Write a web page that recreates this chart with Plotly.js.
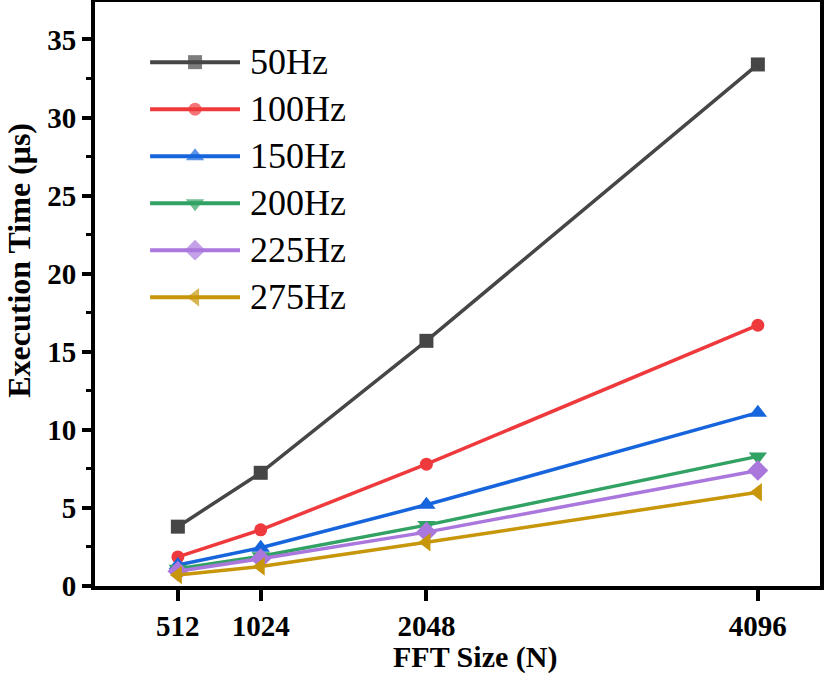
<!DOCTYPE html>
<html>
<head>
<meta charset="utf-8">
<script src="https://cdn.plot.ly/plotly-3.0.1.min.js"></script>
<style>html,body{margin:0;padding:0;background:#fff;}#chart{width:825px;height:676px;}</style>
</head>
<body>
<div id="chart"></div>
<script>
const fftSizes = [512, 1024, 2048, 4096];
const tickLabels = ['512', '1024', '2048', '4096'];
const seriesNames = ['50Hz', '100Hz', '150Hz', '200Hz', '225Hz', '275Hz'];
const y50Hz  = [3.8, 7.25, 15.7, 33.4];
const y100Hz = [1.86, 3.6, 7.8, 16.7];
const y150Hz = [1.35, 2.45, 5.2, 11.1];
const y200Hz = [1.1, 1.9, 3.9, 8.3];
const y225Hz = [0.95, 1.75, 3.45, 7.4];
const y275Hz = [0.7, 1.25, 2.8, 6.0];
const seriesValues = [y50Hz, y100Hz, y150Hz, y200Hz, y225Hz, y275Hz];

const colors = ['#464646', '#ef3a3d', '#1765dc', '#31a264', '#aa77dd', '#c8960a'];
const symbols = ['square', 'circle', 'triangle-up', 'triangle-down', 'diamond', 'triangle-left'];
const msizes = [14, 13, 16, 16, 16, 16];

const FONT = 'Liberation Serif, Times New Roman, serif';
const traces = [];
seriesNames.forEach((name, i) => {
  traces.push({
    x: fftSizes, y: seriesValues[i], name: name, type: 'scatter', mode: 'lines+markers',
    line: {color: colors[i], width: 3.5},
    marker: {symbol: symbols[i], size: msizes[i], color: colors[i], line: {width: 0}},
    showlegend: false, xaxis: 'x', yaxis: 'y'
  });
});

// custom legend drawn on an overlay paper-like axis
const legX0 = 0.076, legX1 = 0.2, legTop = 0.897, legStep = 0.0805;
const annotations = [];
seriesNames.forEach((name, i) => {
  const yy = legTop - i * legStep;
  traces.push({
    x: [legX0, (legX0 + legX1) / 2, legX1], y: [yy, yy, yy], type: 'scatter', mode: 'lines+markers',
    line: {color: colors[i], width: 4},
    marker: {symbol: symbols[i], size: [0, msizes[i], 0], color: colors[i], line: {width: 0}},
    showlegend: false, hoverinfo: 'skip', xaxis: 'x2', yaxis: 'y2'
  });
  annotations.push({
    text: name, xref: 'paper', yref: 'paper', x: 0.211, y: yy, xanchor: 'left', yanchor: 'middle',
    showarrow: false, font: {family: FONT, size: 36, color: '#000'}
  });
});

annotations.push({
  text: 'FFT Size (N)', xref: 'paper', yref: 'paper', x: 0.524, y: -0.121,
  xanchor: 'center', yanchor: 'middle', showarrow: false,
  font: {family: FONT, size: 30, color: '#000', weight: 'bold'}
});
annotations.push({
  text: 'Execution Time (μs)', xref: 'paper', yref: 'paper', x: -0.104, y: 0.558,
  xanchor: 'center', yanchor: 'middle', textangle: -90, showarrow: false,
  font: {family: FONT, size: 32, color: '#000', weight: 'bold'}
});

const layout = {
  width: 825, height: 676,
  margin: {l: 95, r: 5, t: 2, b: 90},
  paper_bgcolor: '#fff', plot_bgcolor: '#fff',
  showlegend: false,
  xaxis: {
    range: [0, 4480], tickvals: fftSizes, ticktext: tickLabels,
    showgrid: false, zeroline: false, showline: true, mirror: true,
    linecolor: '#000', linewidth: 4, ticks: 'outside', ticklen: 11, tickwidth: 4, tickcolor: '#000',
    tickfont: {family: FONT, size: 29, color: '#000', weight: 'bold'}
  },
  yaxis: {
    range: [0, 37.4], dtick: 5, tick0: 0,
    showgrid: false, zeroline: false, showline: true, mirror: true,
    linecolor: '#000', linewidth: 4, ticks: 'outside', ticklen: 9, tickwidth: 4, tickcolor: '#000',
    minor: {dtick: 2.5, ticks: 'outside', ticklen: 5, tickwidth: 3, tickcolor: '#000', showgrid: false},
    tickfont: {family: FONT, size: 29, color: '#000', weight: 'bold'}
  },
  xaxis2: {overlaying: 'x', anchor: 'y2', range: [0, 1], visible: false, fixedrange: true},
  yaxis2: {overlaying: 'y', anchor: 'x2', range: [0, 1], visible: false, fixedrange: true},
  annotations: annotations
};

Plotly.newPlot('chart', traces, layout, {displayModeBar: false, staticPlot: true});
</script>
</body>
</html>
